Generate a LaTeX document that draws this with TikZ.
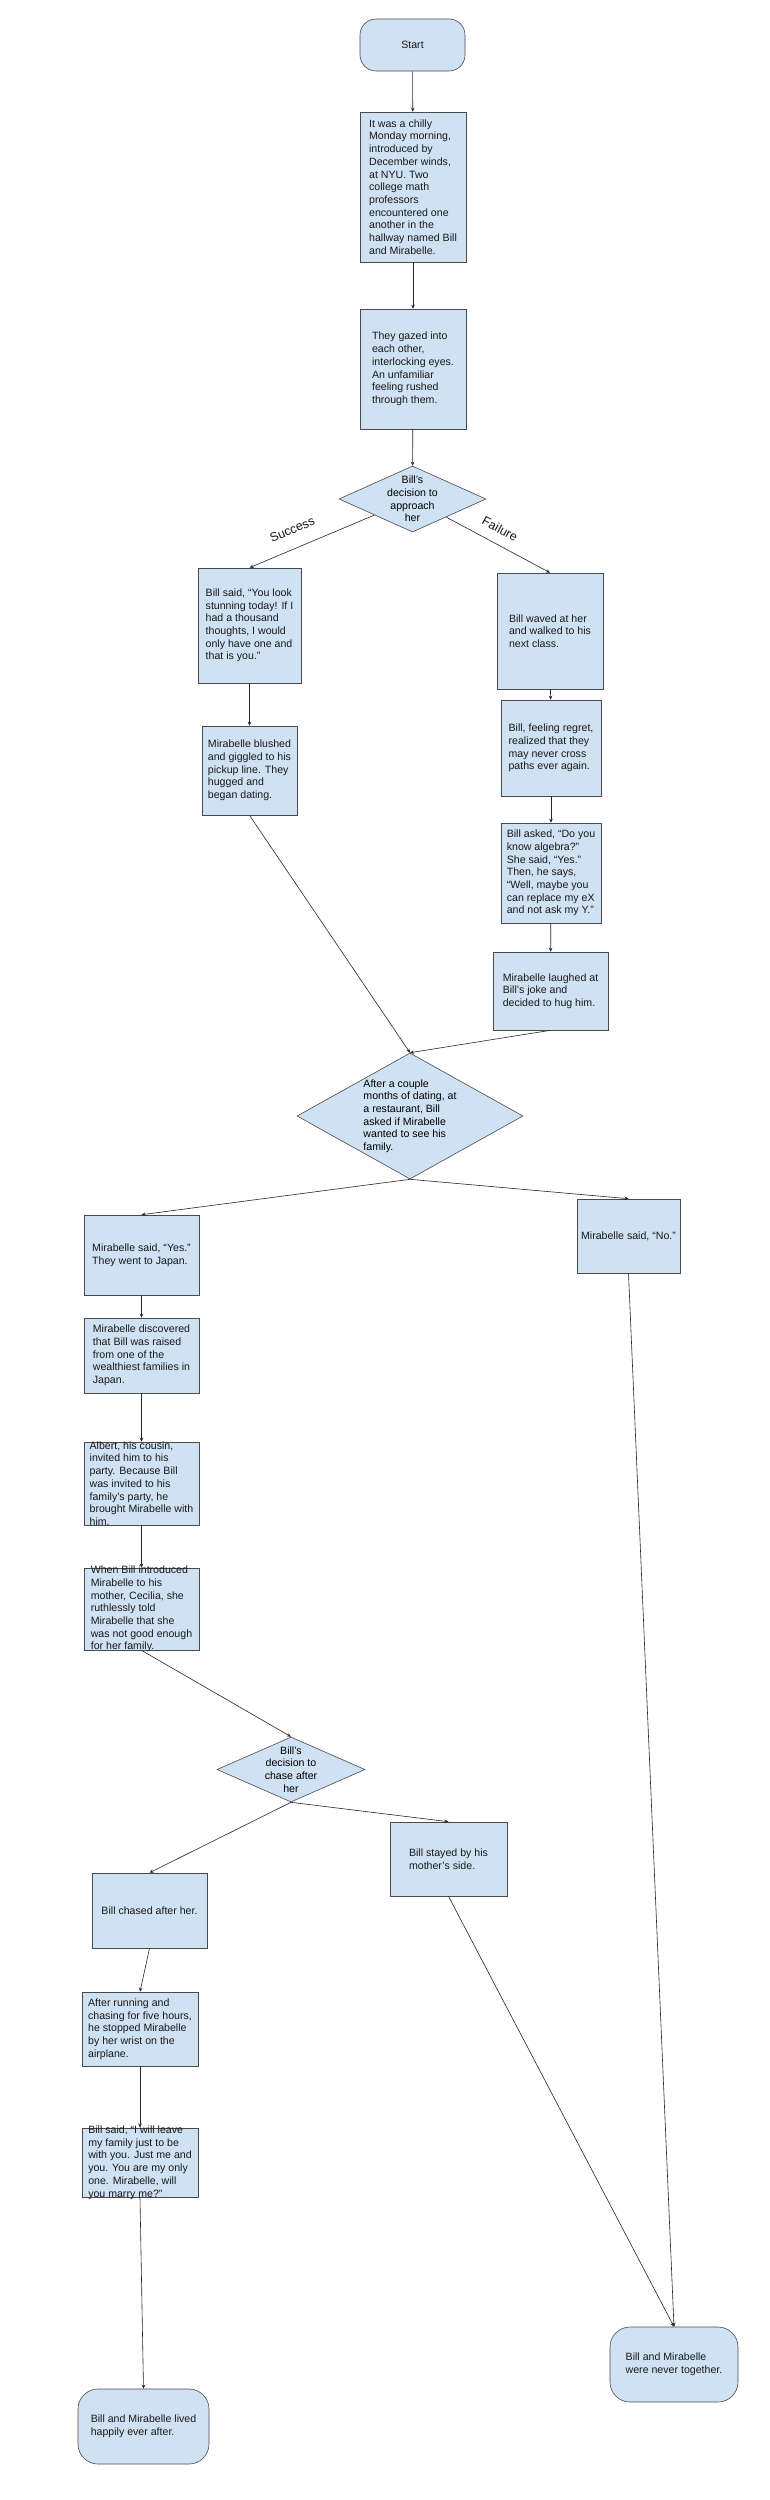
\documentclass[tikz,border=0pt]{standalone}
\usepackage{fontspec}
\setmainfont{Liberation Sans}
\usetikzlibrary{shapes.geometric, arrows.meta}
\definecolor{boxblue}{HTML}{CFE2F3}
\definecolor{boxline}{HTML}{4A4A4A}
\newcommand{\storyfont}{\fontsize{10.6}{12.7}\selectfont}
\tikzset{
  boxsize/.style 2 args={minimum width=#1pt, minimum height=#2pt},
  story/.style={draw=boxline, fill=boxblue, align=left, font=\storyfont, text=black!90, inner sep=0pt, line width=0.6pt},
  ending/.style={story, rounded corners=20pt},
  decision/.style={diamond, draw=boxline, fill=boxblue, inner sep=0pt, line width=0.6pt},
  flow/.style={->, draw=black!85, line width=0.6pt},
  branch/.style={font=\fontsize{12.5}{14}\selectfont, text=black!90, inner sep=1pt},
}
\begin{document}
\begin{tikzpicture}[x=1pt, y=-1pt, >={Stealth[length=4pt, width=3.5pt]}]
  \fill[white] (0,0) rectangle (770,2500);
  \useasboundingbox (0,0) rectangle (770,2500);
  % opening
  \node[ending, rounded corners=16pt, boxsize={105}{52}] (start) at (412.5,45) {Start};
  \node[story, boxsize={106}{150}] (intro) at (413,187) {It was a chilly\\Monday morning,\\introduced by\\December winds,\\at NYU. Two\\college math\\professors\\encountered one\\another in the\\hallway named Bill\\and Mirabelle.};
  \node[story, boxsize={106}{120}] (gaze) at (413,369) {They gazed into\\each other,\\interlocking eyes.\\An unfamiliar\\feeling rushed\\through them.};
  \node[decision, boxsize={147}{66}, label={[font=\storyfont, align=center]center:{Bill’s\\decision to\\approach\\her}}] (approach) at (412.5,499) {};
  % success branch
  \node[story, boxsize={103}{115}] (compliment) at (249.5,625.5) {Bill said, “You look\\stunning today! If I\\had a thousand\\thoughts, I would\\only have one and\\that is you.”};
  \node[story, boxsize={95}{89}] (blush) at (249.5,770.5) {Mirabelle blushed\\and giggled to his\\pickup line. They\\hugged and\\began dating.};
  % failure branch
  \node[story, boxsize={106}{116}] (wave) at (550,631) {Bill waved at her\\and walked to his\\next class.};
  \node[story, boxsize={100}{96}] (regret) at (551,748) {Bill, feeling regret,\\realized that they\\may never cross\\paths ever again.};
  \node[story, boxsize={100}{100}] (algebra) at (551,873) {Bill asked, “Do you\\know algebra?”\\She said, “Yes.”\\Then, he says,\\“Well, maybe you\\can replace my eX\\and not ask my Y.”};
  \node[story, boxsize={115}{78}] (laugh) at (550.5,991) {Mirabelle laughed at\\Bill’s joke and\\decided to hug him.};
  % meeting the family
  \node[decision, boxsize={226}{126}, label={[font=\storyfont, align=left]center:{After a couple\\months of dating, at\\a restaurant, Bill\\asked if Mirabelle\\wanted to see his\\family.}}] (family) at (410,1116) {};
  \node[story, boxsize={115}{80}] (yes) at (141.5,1255) {Mirabelle said, “Yes.”\\They went to Japan.};
  \node[story, boxsize={103}{74}] (reject) at (628.5,1236) {Mirabelle said, “No.”};
  \node[story, boxsize={115}{75}] (wealth) at (141.5,1355.5) {Mirabelle discovered\\that Bill was raised\\from one of the\\wealthiest families in\\Japan.};
  \node[story, boxsize={115}{83}, inner ysep=-1pt] (party) at (141.5,1483.5) {Albert, his cousin,\\invited him to his\\party. Because Bill\\was invited to his\\family’s party, he\\brought Mirabelle with\\him.};
  \node[story, boxsize={115}{82}, inner ysep=-2pt] (mother) at (141.5,1609) {When Bill introduced\\Mirabelle to his\\mother, Cecilia, she\\ruthlessly told\\Mirabelle that she\\was not good enough\\for her family.};
  % the chase
  \node[decision, boxsize={148}{65}, label={[font=\storyfont, align=center]center:{Bill’s\\decision to\\chase after\\her}}] (chase) at (291,1769.5) {};
  \node[story, boxsize={115}{75}] (chased) at (149.5,1910.5) {Bill chased after her.};
  \node[story, boxsize={117}{74}] (stay) at (448.5,1859) {Bill stayed by his\\mother’s side.};
  \node[story, boxsize={116}{74}] (airport) at (140,2029) {After running and\\chasing for five hours,\\he stopped Mirabelle\\by her wrist on the\\airplane.};
  \node[story, boxsize={116}{65}, inner ysep=-2pt] (propose) at (140,2162.5) {Bill said, “I will leave\\my family just to be\\with you. Just me and\\you. You are my only\\one. Mirabelle, will\\you marry me?”};
  % endings
  \node[ending, boxsize={131}{75}] (happy) at (143.5,2426.5) {Bill and Mirabelle lived\\happily ever after.};
  \node[ending, boxsize={128}{75}] (never) at (674,2364.5) {Bill and Mirabelle\\were never together.};
  % connectors
  \draw[flow] (start) -- (intro);
  \draw[flow] (intro) -- (gaze);
  \draw[flow] (gaze) -- (approach);
  \draw[flow] (approach) -- (compliment.north) node[branch, pos=0.6, sloped, above=13pt] {Success};
  \draw[flow] (approach) -- (wave.north) node[branch, pos=0.45, sloped, above=9pt] {Failure};
  \draw[flow] (compliment) -- (blush);
  \draw[flow] (wave) -- (regret);
  \draw[flow] (regret) -- (algebra);
  \draw[flow] (algebra) -- (laugh);
  \draw[flow] (blush.south) -- (family.north);
  \draw[flow] (laugh.south) -- (family.north);
  \draw[flow] (family.south) -- (yes.north);
  \draw[flow] (family.south) -- (reject.north);
  \draw[flow] (yes) -- (wealth);
  \draw[flow] (wealth) -- (party);
  \draw[flow] (party) -- (mother);
  \draw[flow] (mother.south) -- (chase.north);
  \draw[flow] (chase.south) -- (chased.north);
  \draw[flow] (chase.south) -- (stay.north);
  \draw[flow] (chased.south) -- (airport.north);
  \draw[flow] (airport) -- (propose);
  \draw[flow] (propose.south) -- (happy.north);
  \draw[flow] (reject.south) -- (never.north);
  \draw[flow] (stay.south) -- (never.north);
\end{tikzpicture}
\end{document}
